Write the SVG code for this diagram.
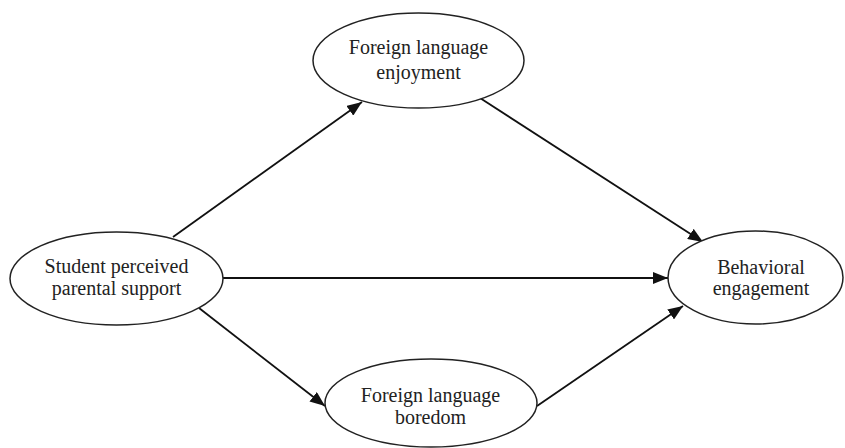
<svg xmlns="http://www.w3.org/2000/svg" width="845" height="448" viewBox="0 0 845 448">
<style>
.node ellipse{fill:#fff;stroke:#222;stroke-width:1.5}
.node text{font-family:"Liberation Serif","Times New Roman",serif;font-size:20px;fill:#222;text-anchor:middle}
.edge{stroke:#111;stroke-width:1.8;fill:none;marker-end:url(#arr)}
</style>
<defs>
<marker id="arr" markerUnits="userSpaceOnUse" markerWidth="16" markerHeight="12" viewBox="0 0 16 12" refX="15" refY="6" orient="auto">
<path d="M0,0 L15,6 L0,12 Z" fill="#111"/>
</marker>
</defs>
<rect width="845" height="448" fill="#fff"/>
<g id="connectors">
<line class="edge" x1="173" y1="237" x2="362" y2="102"/>
<line class="edge" x1="480" y1="98" x2="703" y2="242"/>
<line class="edge" x1="223" y1="278" x2="668" y2="278"/>
<line class="edge" x1="199" y1="308" x2="325" y2="406"/>
<line class="edge" x1="537" y1="406" x2="683" y2="306"/>
</g>
<g id="node-support" class="node">
<ellipse cx="116.5" cy="278.5" rx="106.5" ry="46.5"/>
<text x="116.5" y="273">Student perceived</text>
<text x="116.5" y="295">parental support</text>
</g>
<g id="node-enjoyment" class="node">
<ellipse cx="418.5" cy="60.5" rx="105.5" ry="47.5"/>
<text x="418.5" y="54">Foreign language</text>
<text x="418.5" y="79">enjoyment</text>
</g>
<g id="node-boredom" class="node">
<ellipse cx="431" cy="403" rx="106" ry="44"/>
<text x="430.5" y="402">Foreign language</text>
<text x="430.5" y="424">boredom</text>
</g>
<g id="node-engagement" class="node">
<ellipse cx="755.5" cy="277.5" rx="87.5" ry="46.5"/>
<text x="761" y="274">Behavioral</text>
<text x="761" y="295">engagement</text>
</g>
</svg>
